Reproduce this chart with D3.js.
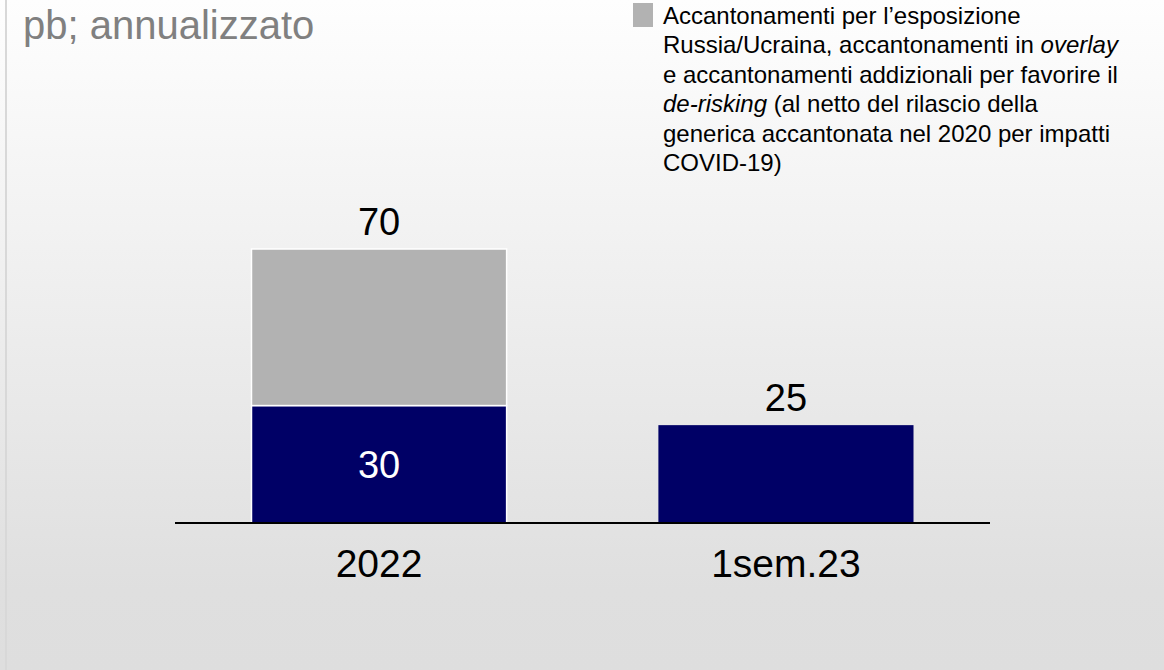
<!DOCTYPE html>
<html>
<head>
<meta charset="utf-8">
<script src="https://cdn.jsdelivr.net/npm/d3@7"></script>
<style>
  html, body { margin: 0; padding: 0; }
  body { width: 1164px; height: 670px; overflow: hidden; font-family: "Liberation Sans", Arial, sans-serif; }
</style>
</head>
<body>
<div id="chart"></div>
<script>
// data
var categories = ["2022", "1sem.23"];
var baseValues = [30, 25];        // navy segment
var extraValues = [40, 0];        // grey segment (overlay / Russia-Ucraina)
var totalLabels = ["70", "25"];
var innerLabels = ["30", ""];
var titleText = "pb; annualizzato";
// legend lines, parts flagged as italic
var legendLines = [
  [["Accantonamenti per l\u2019esposizione", false]],
  [["Russia/Ucraina, accantonamenti in ", false], ["overlay", true]],
  [["e accantonamenti addizionali per favorire il", false]],
  [["de-risking", true], [" (al netto del rilascio della", false]],
  [["generica accantonata nel 2020 per impatti", false]],
  [["COVID-19)", false]]
];

var width = 1164, height = 670;
var navy = "#000066", grey = "#b2b2b2";

var svg = d3.select("#chart").append("svg")
  .attr("width", width)
  .attr("height", height);

// background gradient
var grad = svg.append("defs").append("linearGradient")
  .attr("id", "bg")
  .attr("x1", 0).attr("y1", 0).attr("x2", 0).attr("y2", 1);
grad.append("stop").attr("offset", "0%").attr("stop-color", "#fefefe");
grad.append("stop").attr("offset", "88%").attr("stop-color", "#dfdfdf");
grad.append("stop").attr("offset", "100%").attr("stop-color", "#dedede");
svg.append("rect").attr("width", width).attr("height", height).attr("fill", "url(#bg)");
svg.append("rect").attr("x", 5).attr("y", 0).attr("width", 2).attr("height", height).attr("fill", "#d8d8d8");

// scales
var x = d3.scaleBand()
  .domain(categories)
  .range([175, 990])
  .paddingInner(0.373)
  .paddingOuter(0.188);
var y = d3.scaleLinear()
  .domain([0, 70])
  .range([523, 249]);

var dat = categories.map(function(c, i) {
  return {cat: c, base: baseValues[i], extra: extraValues[i], total: totalLabels[i], inner: innerLabels[i]};
});

// bars: navy
svg.selectAll("rect.base")
  .data(dat)
  .enter().append("rect")
    .attr("class", "base")
    .attr("x", function(d) {return x(d.cat);})
    .attr("y", function(d) {return y(d.base);})
    .attr("width", x.bandwidth())
    .attr("height", function(d) {return y(0) - y(d.base);})
    .attr("fill", navy)
    .attr("stroke", function(d) {return d.extra > 0 ? "#ffffff" : "none";})
    .attr("stroke-width", 1.5);

// bars: grey on top
svg.selectAll("rect.extra")
  .data(dat.filter(function(d) {return d.extra > 0;}))
  .enter().append("rect")
    .attr("class", "extra")
    .attr("x", function(d) {return x(d.cat);})
    .attr("y", function(d) {return y(d.base + d.extra);})
    .attr("width", x.bandwidth())
    .attr("height", function(d) {return y(d.base) - y(d.base + d.extra);})
    .attr("fill", grey)
    .attr("stroke", "#ffffff")
    .attr("stroke-width", 1.5);

// axis line
svg.append("line")
  .attr("x1", x.range()[0]).attr("x2", x.range()[1])
  .attr("y1", y(0)).attr("y2", y(0))
  .attr("stroke", "#000").attr("stroke-width", 2);

// total labels
svg.selectAll("text.total")
  .data(dat)
  .enter().append("text")
    .attr("class", "total")
    .attr("x", function(d) {return x(d.cat) + x.bandwidth() / 2;})
    .attr("y", function(d) {return y(d.base + d.extra) - 14;})
    .attr("text-anchor", "middle")
    .attr("font-size", "38px")
    .attr("fill", "#000")
    .text(function(d) {return d.total;});

// inner labels
svg.selectAll("text.inner")
  .data(dat.filter(function(d) {return d.inner !== "";}))
  .enter().append("text")
    .attr("class", "inner")
    .attr("x", function(d) {return x(d.cat) + x.bandwidth() / 2;})
    .attr("y", function(d) {return (y(0) + y(d.base)) / 2 + 14;})
    .attr("text-anchor", "middle")
    .attr("font-size", "38px")
    .attr("fill", "#fff")
    .text(function(d) {return d.inner;});

// category labels
svg.selectAll("text.cat")
  .data(categories)
  .enter().append("text")
    .attr("class", "cat")
    .attr("x", function(d) {return x(d) + x.bandwidth() / 2;})
    .attr("y", y(0) + 54)
    .attr("text-anchor", "middle")
    .attr("font-size", "39px")
    .attr("fill", "#000")
    .text(function(d) {return d;});

// title
svg.append("text")
  .attr("x", 23).attr("y", 39)
  .attr("font-size", "40px")
  .attr("fill", "#808080")
  .text(titleText);

// legend
svg.append("rect")
  .attr("x", 633).attr("y", 3)
  .attr("width", 20).attr("height", 24)
  .attr("fill", grey);

var legend = svg.append("text")
  .attr("x", 663)
  .attr("font-size", "24px")
  .attr("fill", "#000");
legendLines.forEach(function(parts, i) {
  parts.forEach(function(p, k) {
    var t = legend.append("tspan").text(p[0])
      .attr("font-style", p[1] ? "italic" : "normal");
    if (k === 0) t.attr("x", 663).attr("y", 24 + i * 29.4);
  });
});
</script>
</body>
</html>
